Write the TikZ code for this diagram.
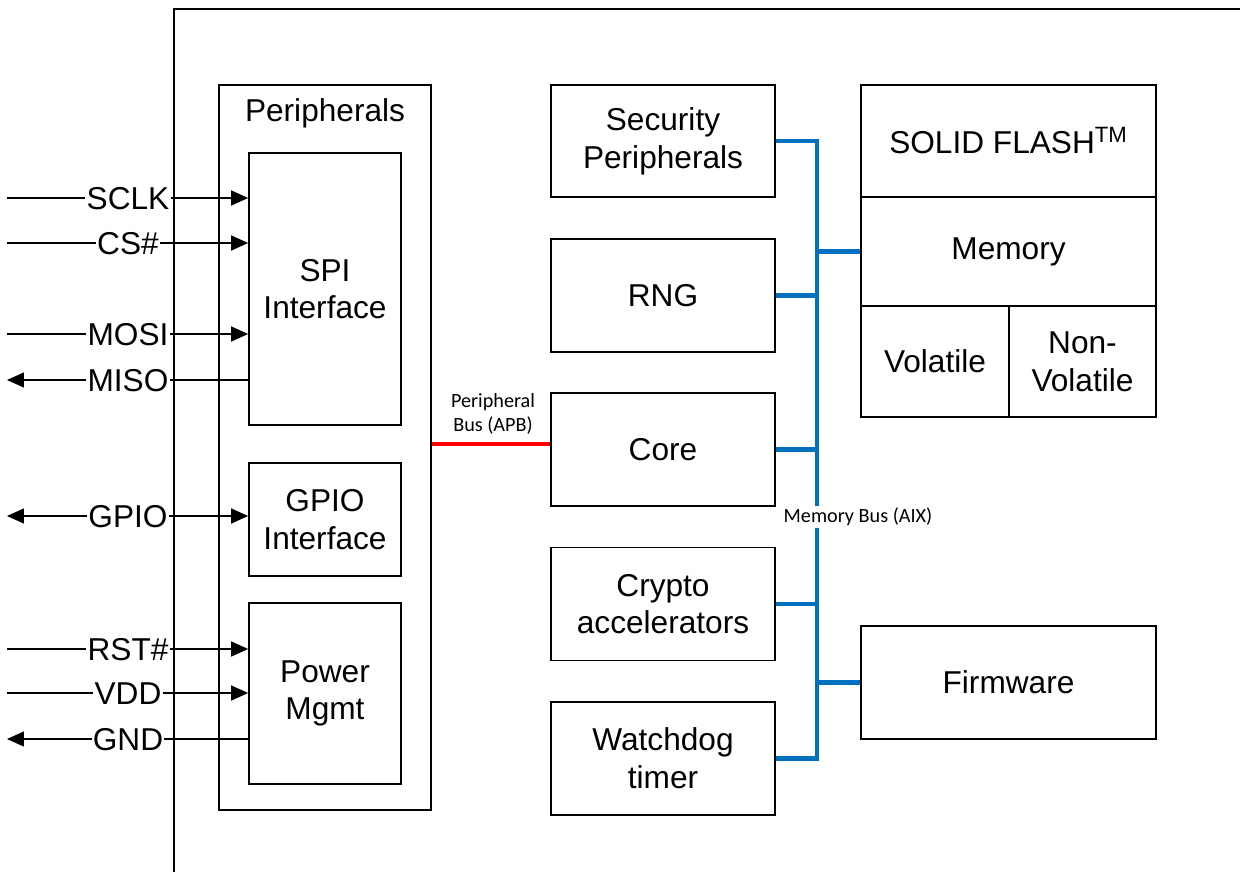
\documentclass[tikz,border=0pt]{standalone}
\usepackage{fontspec}
\setmainfont{Liberation Sans}
\newfontfamily\busfont{Carlito}
\usepackage{tikz}
\usetikzlibrary{arrows.meta,positioning}
\definecolor{busblue}{RGB}{0,112,192}
\definecolor{apbred}{RGB}{255,0,0}

\begin{document}
\begin{tikzpicture}[x=0.02cm, y=-0.02cm,
        blk/.style={draw, line width=1pt, inner sep=0pt, align=center, font=\fontsize{18}{21.5}\selectfont},
        pinlabel/.style={inner sep=0.5pt, text height=12.9pt, text depth=0pt, font=\fontsize{18}{21.5}\selectfont},
        sig/.style={line width=0.8pt},
        arrowtip/.style={-{Triangle[length=3.4mm,width=3mm]}},
        membus/.style={line width=2.8pt, busblue},
        apb/.style={line width=2.8pt, apbred},
        buslabel/.style={font=\busfont\fontsize{11.5}{14}\selectfont, align=center, inner sep=1pt}]
        \useasboundingbox (0,0) rectangle (1240,872);

        % Chip outline
        \draw[line width=1pt] (174,872) -- (174,9) -- (1240,9);

        % Peripherals
        \node[blk, minimum width=4.24cm, minimum height=14.5cm] (Periph) at (325,447.5) {};
        \node[font=\fontsize{18}{21.5}\selectfont] (PeriphLbl) at (325,113) {Peripherals};
        \node[blk, minimum width=3.04cm, minimum height=5.44cm] (SPI) at (325,289) {SPI\\Interface};
        \node[blk, minimum width=3.04cm, minimum height=2.26cm] (GPIO) at (325,519.5) {GPIO\\Interface};
        \node[blk, minimum width=3.04cm, minimum height=3.62cm] (Power) at (325,693.5) {Power\\Mgmt};

        % Core side
        \node[blk, minimum width=4.48cm, minimum height=2.24cm] (Sec) at (663,141) {Security\\Peripherals};
        \node[blk, minimum width=4.48cm, minimum height=2.26cm] (RNG) at (663,295.5) {RNG};
        \node[blk, minimum width=4.48cm, minimum height=2.26cm] (Core) at (663,449.5) {Core};
        \node[blk, minimum width=4.48cm, minimum height=2.26cm] (Crypto) at (663,604) {Crypto\\accelerators};
        \node[blk, minimum width=4.48cm, minimum height=2.26cm] (Wdog) at (663,758.5) {Watchdog\\timer};

        % Memory
        \node[blk, minimum width=5.9cm, minimum height=2.24cm] (Flash) at (1008.5,141) {SOLID FLASH\textsuperscript{TM}};
        \node[blk, minimum width=5.9cm, minimum height=2.18cm] (Mem) at (1008.5,251.5) {Memory};
        \node[blk, minimum width=2.96cm, minimum height=2.22cm] (Vol) at (935,361.5) {Volatile};
        \node[blk, minimum width=2.94cm, minimum height=2.22cm] (NVol) at (1082.5,361.5) {Non-\\Volatile};
        \node[blk, minimum width=5.9cm, minimum height=2.26cm] (FW) at (1008.5,682.5) {Firmware};

        % Pins
        \node[pinlabel] (SCLK) at (128,198) {SCLK};
        \node[pinlabel] (CS) at (128,243) {CS\#};
        \node[pinlabel] (MOSI) at (128,334) {MOSI};
        \node[pinlabel] (MISO) at (128,380) {MISO};
        \node[pinlabel] (GPIOpin) at (128,516) {GPIO};
        \node[pinlabel] (RST) at (128,649) {RST\#};
        \node[pinlabel] (VDD) at (128,693) {VDD};
        \node[pinlabel] (GND) at (128,739) {GND};
        \coordinate (SCLKin) at (7,198);
        \coordinate (CSin) at (7,243);
        \coordinate (MOSIin) at (7,334);
        \coordinate (MISOout) at (7,380);
        \coordinate (GPIOout) at (7,516);
        \coordinate (RSTin) at (7,649);
        \coordinate (VDDin) at (7,693);
        \coordinate (GNDout) at (7,739);

        % Pin wires
        \draw[sig] (SCLKin) -- (SCLK.west);
        \draw[sig, arrowtip] (SCLK.east) -- (SCLK.east -| SPI.west);
        \draw[sig] (CSin) -- (CS.west);
        \draw[sig, arrowtip] (CS.east) -- (CS.east -| SPI.west);
        \draw[sig] (MOSIin) -- (MOSI.west);
        \draw[sig, arrowtip] (MOSI.east) -- (MOSI.east -| SPI.west);
        \draw[sig, arrowtip] (MISO.west) -- (MISOout);
        \draw[sig] (MISO.east) -- (MISO.east -| SPI.west);
        \draw[sig, arrowtip] (GPIOpin.west) -- (GPIOout);
        \draw[sig, arrowtip] (GPIOpin.east) -- (GPIOpin.east -| GPIO.west);
        \draw[sig] (RSTin) -- (RST.west);
        \draw[sig, arrowtip] (RST.east) -- (RST.east -| Power.west);
        \draw[sig] (VDDin) -- (VDD.west);
        \draw[sig, arrowtip] (VDD.east) -- (VDD.east -| Power.west);
        \draw[sig, arrowtip] (GND.west) -- (GNDout);
        \draw[sig] (GND.east) -- (GND.east -| Power.west);

        % Peripheral bus
        \draw[apb] ([yshift=0.11cm]Core.west) -- ([yshift=0.11cm]Core.west -| Periph.east);
        \node[buslabel] (APBLbl) at (493,414) {Peripheral\\Bus (APB)};

        % Memory bus
        \coordinate (Bus) at (817,0);
        \draw[membus] (Sec.east) -- (Sec.east -| Bus) -- (Wdog.east -| Bus) -- (Wdog.east);
        \draw[membus] (RNG.east) -- (RNG.east -| Bus);
        \draw[membus] (Core.east) -- (Core.east -| Bus);
        \draw[membus] (Crypto.east) -- (Crypto.east -| Bus);
        \draw[membus] (Mem.west) -- (Mem.west -| Bus);
        \draw[membus] (FW.west) -- (FW.west -| Bus);
        \node[buslabel, fill=white] (MemBusLbl) at (858,517) {Memory Bus (AIX)};
    \end{tikzpicture}
\end{document}
